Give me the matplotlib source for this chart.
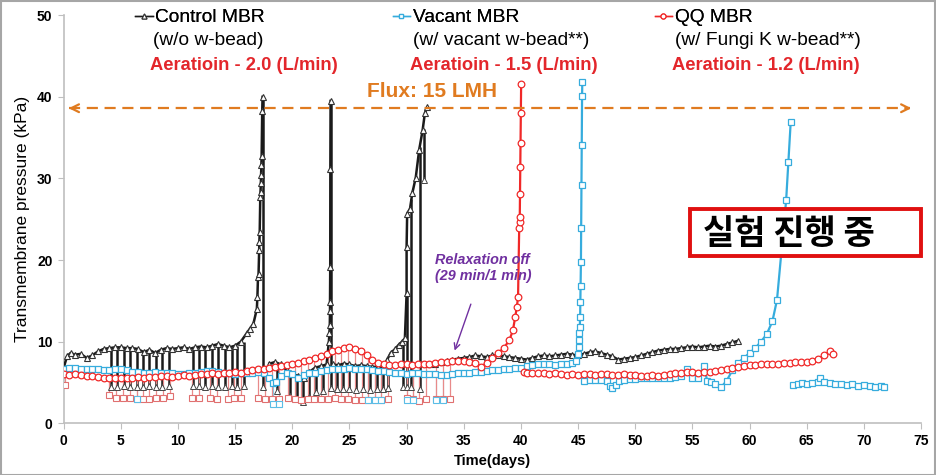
import numpy as np
import matplotlib.pyplot as plt
from matplotlib.patches import Rectangle

plt.rcParams['font.family'] = ['Liberation Sans', 'Noto Sans CJK KR', 'DejaVu Sans']

nan = float('nan')

####################################################################################
### Data
####################################################################################

# Control MBR (black triangles)
ctrl_day = [0, 0.3, 0.6, 1, 1.5, 2, 2.5, 3, 3.5, 4, 4.5, 5, 5.5, 6, 6.5, 7, 7.5, 8, 8.5, 9,
            9.5, 10, 10.5, 11, 11.5, 12, 12.5, 13, 13.5, 14, 14.5, 15, 15.5, 16, 16.3, 16.6,
            16.9, 16.95, 17.0, 17.05, 17.1, 17.12, 17.15, 17.2, 17.22, 17.25, 17.27, 17.3,
            17.32, 17.37, 17.4, nan,
            18.0, 18.5, 19.0, 19.5, 20.0, 20.5, 21.0, 21.5, 22.0, 22.5, 23.0,
            23.2, 23.25, 23.28, 23.3, 23.3, 23.32, 23.33, 23.35, nan,
            23.6, 24.0, 24.5, 25.0, 25.5, 26.0, 26.5, 27.0, 27.5, 28.0, 28.3, 28.6, 29.0,
            29.3, 29.6, 29.85, 30.0, 30.0, 30.05, 30.3, 30.5, 30.8, 31.1, 31.4, 31.6, 31.8, nan,
            32.0, 32.5, 33.0, 33.5, 34.0, 34.5, 35.0, 35.5, 36.0, 36.5, 37.0, 37.5, 38.0,
            38.5, 39.0, 39.5, 40.0, 40.5, 41.0, 41.5, 42.0, 42.5, 43.0, 43.5, 44.0, 44.5,
            45.0, 45.5, 46.0, 46.5, 47.0, 47.5, 48.0, 48.5, 49.0, 49.5, 50.0, 50.5, 51.0,
            51.5, 52.0, 52.5, 53.0, 53.5, 54.0, 54.5, 55.0, 55.5, 56.0, 56.5, 57.0, 57.5,
            58.0, 58.5, 59.0]
ctrl_tmp = [6.8, 8.2, 8.6, 8.4, 8.5, 8.0, 8.3, 8.8, 9.1, 9.2, 9.3, 9.3, 9.2, 9.2, 9.1, 8.7, 9.0, 8.6, 9.0, 9.2,
            9.1, 9.2, 9.3, 9.1, 9.3, 9.4, 9.3, 9.5, 9.7, 9.5, 9.3, 9.5, 10.0, 11.0, 11.6, 12.2,
            14.0, 15.5, 17.9, 18.3, 21.2, 22.2, 23.4, 27.7, 28.3, 29.4, 30.4, 31.6,
            32.8, 38.2, 40.0, nan,
            7.3, 7.5, 7.2, 6.5, 6.0, 5.8, 5.6, 6.3, 6.8, 7.0, 7.2,
            10.0, 11.0, 12.0, 13.8, 14.8, 19.1, 31.1, 39.5, nan,
            7.2, 7.1, 7.3, 7.2, 7.0, 7.1, 7.0, 6.9, 6.9, 6.9, 7.8, 8.6, 9.1,
            9.6, 10.0, 10.4, 15.9, 21.6, 25.7, 26.3, 28.2, 30.1, 33.5, 35.9, 38.0, 38.7, nan,
            7.2, 7.3, 7.5, 7.6, 7.8, 7.9, 8.0, 8.1, 8.3, 8.2, 8.1, 8.3, 8.3,
            8.2, 8.1, 8.0, 7.9, 7.8, 8.0, 8.2, 8.3, 8.2, 8.3, 8.4, 8.5, 8.4,
            8.3, 8.5, 8.7, 8.8, 8.6, 8.4, 8.2, 7.8, 7.9, 8.0, 8.1, 8.3, 8.5,
            8.7, 8.9, 9.0, 9.1, 9.1, 9.2, 9.3, 9.4, 9.3, 9.4, 9.5, 9.4, 9.5,
            9.7, 9.9, 10.1]

# relaxation drops of the control MBR
ctrl_relax_day = [4.1, 4.7, 5.25, 5.8, 6.4, 6.9, 7.5, 8.1, 8.6, 9.2, 11.3, 11.8, 12.4, 12.95,
                  13.5, 14.1, 14.7, 15.2, 15.8, 17.4, 18.7, 19.8, 20.4, 20.9, 21.5, 22.1, 22.7,
                  23.35, 23.9, 24.4, 25.0, 25.6, 26.2, 26.8, 27.4, 27.9, 28.4, 29.7, 30.0, 30.4,
                  31.2, 31.5]
ctrl_relax_top = [9.2, 9.3, 9.3, 9.2, 9.2, 9.0, 9.0, 8.7, 9.0, 9.2, 9.2, 9.3, 9.4, 9.4,
                  9.7, 9.5, 9.3, 9.5, 10.0, 40.0, 7.4, 6.5, 6.0, 5.8, 5.8, 6.5, 7.0,
                  39.5, 7.1, 7.3, 7.2, 7.1, 7.1, 7.0, 6.9, 6.9, 7.5, 9.8, 15.9, 27.5,
                  33.8, 36.0]
ctrl_relax_low = [4.5, 4.5, 4.6, 4.5, 4.4, 4.5, 4.6, 4.5, 4.5, 4.6, 4.6, 4.6, 4.5, 4.6,
                  4.5, 4.5, 4.6, 4.5, 4.6, 4.5, 4.0, 3.3, 3.0, 2.6, 3.2, 3.8, 4.0,
                  4.3, 4.2, 4.2, 4.2, 4.1, 4.2, 4.1, 4.2, 4.2, 4.3, 4.4, 4.4, 4.4,
                  4.2, 29.8]

# Vacant MBR (blue squares)
vac_day = [0, 0.5, 1, 1.5, 2, 2.5, 3, 3.5, 4, 4.5, 5, 5.5, 6, 6.5, 7, 7.5, 8, 8.5, 9, 9.5,
           10, 10.5, 11, 11.5, 12, 12.5, 13, 13.5, 14, 14.5, 15, 15.5, 16, 16.5, 17, 17.5,
           18, 18.3, 18.6, 19, 19.5, 20, 20.5, 21, 21.5, 22, 22.5, 23, 23.5, 24, 24.5, 25,
           25.5, 26, 26.5, 27, 27.5, 28, 28.5, 29, 29.5, 30, 30.5, 31, 31.5, 32, 32.5, 33,
           33.5, 34, 34.5, 35, 35.5, 36, 36.5, 37, 37.5, 38, 38.5, 39, 39.5, 40, 40.5, 41,
           41.5, 42, 42.5, 43, 43.5, 44, 44.5, 44.8, 45.0, 45.05, 45.1, 45.12, 45.15, 45.18,
           45.2, 45.22, 45.25, 45.27, 45.3, 45.32, 45.35, 45.37, nan,
           45.5, 46, 46.5, 47, 47.5, 47.8, 48, 48.3, 48.6, 49, 49.5, 50, 50.5, 51, 51.5, 52,
           52.5, 53, 53.5, 54, 54.5, 55, 55.5, 56, 56.3, 56.6, 57, 57.5, 58, 58.5, 59, 59.5,
           60, 60.5, 61, 61.5, 62, 62.4, 62.8, 63.2, 63.4, 63.6, nan,
           63.8, 64.2, 64.6, 65, 65.5, 66, 66.2, 66.5, 67, 67.5, 68, 68.5, 69, 69.5, 70,
           70.5, 71, 71.5, 71.8]
vac_tmp = [6.7, 6.8, 6.8, 6.7, 6.6, 6.6, 6.6, 6.5, 6.5, 6.6, 6.7, 6.5, 6.3, 6.3, 6.2, 6.2, 6.3, 6.2, 6.2, 6.1,
           6.0, 6.0, 6.1, 6.2, 6.3, 6.4, 6.4, 6.3, 6.2, 6.1, 6.0, 6.1, 6.2, 6.2, 6.3, 6.2,
           5.6, 4.9, 5.1, 5.8, 6.2, 6.0, 5.5, 5.9, 6.1, 6.2, 6.4, 6.5, 6.6, 6.6, 6.7, 6.8,
           6.7, 6.7, 6.6, 6.5, 6.4, 6.4, 6.3, 6.2, 6.1, 6.0, 6.1, 6.1, 6.0, 6.0, 6.0, 5.9,
           5.9, 6.0, 6.1, 6.2, 6.2, 6.3, 6.3, 6.4, 6.5, 6.5, 6.6, 6.7, 6.8, 6.8, 7.0, 7.1,
           7.2, 7.2, 7.3, 7.1, 7.2, 7.3, 7.4, 7.6, 8.5, 9.3, 10.2, 11.0, 11.8, 13.0,
           14.9, 16.8, 19.8, 23.9, 29.2, 34.1, 40.1, 41.8, nan,
           5.2, 5.3, 5.3, 5.3, 5.2, 4.6, 4.3, 4.7, 5.2, 5.3, 5.4, 5.4, 5.5, 5.5, 5.5, 5.5,
           5.6, 5.6, 5.7, 5.8, 6.6, 5.6, 5.5, 7.0, 5.2, 5.0, 4.8, 4.4, 5.2, 6.5, 7.4, 8.0,
           8.6, 9.2, 10.0, 10.9, 12.5, 15.1, 21.2, 27.3, 32.0, 36.9, nan,
           4.7, 4.8, 4.9, 4.8, 4.9, 5.0, 5.6, 5.1, 4.9, 4.8, 4.8, 4.7, 4.8, 4.6, 4.7,
           4.6, 4.5, 4.6, 4.5]

vac_relax_day = [6.4, 18.3, 18.8, 26.6, 27.2, 27.8, 30.0, 30.6, 32.6, 33.2]
vac_relax_top = [6.3, 5.0, 5.2, 6.7, 6.5, 6.4, 6.0, 6.1, 6.0, 5.9]
vac_relax_low = [3.0, 2.3, 2.4, 2.9, 2.9, 2.9, 2.8, 2.8, 2.9, 2.9]

# QQ MBR (red circles)
qq_day = [0, 0.5, 1, 1.5, 2, 2.5, 3, 3.5, 4, 4.5, 5, 5.5, 6, 6.5, 7, 7.5, 8, 8.5, 9, 9.5,
          10, 10.5, 11, 11.5, 12, 12.5, 13, 13.5, 14, 14.5, 15, 15.5, 16, 16.5, 17, 17.5,
          18, 18.5, 19, 19.5, 20, 20.5, 21, 21.5, 22, 22.5, 23, 23.5, 24, 24.5, 25, 25.5,
          26, 26.5, 27, 27.5, 28, 28.5, 29, 29.5, 30, 30.5, 31, 31.5, 32, 32.5, 33, 33.5,
          34, 34.5, 35, 35.5, 36, 36.5, 37, 37.5, 38, 38.5, 39, 39.3, 39.5, 39.65, 39.75,
          39.85, 39.88, 39.9, 39.92, 39.95, 39.97, 40.0, 40.02, nan,
          40.3, 40.5, 41, 41.5, 42, 42.5, 43, 43.5, 44, 44.5, 45, 45.5, 46, 46.5, 47, 47.5,
          48, 48.5, 49, 49.5, 50, 50.5, 51, 51.5, 52, 52.5, 53, 53.5, 54, 54.5, 55, 55.5,
          56, 56.5, 57, 57.5, 58, 58.5, 59, 59.5, 60, 60.5, 61, 61.5, 62, 62.5, 63, 63.5,
          64, 64.5, 65, 65.5, 66, 66.5, 67, 67.3]
qq_tmp = [6.0, 5.9, 6.0, 5.9, 5.8, 5.8, 5.7, 5.6, 5.6, 5.5, 5.6, 5.5, 5.6, 5.7, 5.6, 5.7, 5.7, 5.8, 5.8, 5.7,
          5.8, 5.9, 5.8, 5.9, 6.0, 6.0, 6.1, 6.0, 6.1, 6.2, 6.3, 6.2, 6.4, 6.5, 6.6, 6.7,
          6.8, 6.9, 7.0, 7.1, 7.3, 7.4, 7.6, 7.8, 8.0, 8.2, 8.5, 8.8, 9.0, 9.2, 9.3, 9.1,
          8.8, 8.3, 7.8, 7.4, 7.2, 7.1, 7.1, 7.2, 7.2, 7.1, 7.2, 7.2, 7.3, 7.4, 7.5, 7.5,
          7.6, 7.6, 7.6, 7.5, 7.4, 6.9, 7.4, 8.0, 8.6, 9.2, 10.2, 11.4, 13.0, 14.3, 15.5,
          23.9, 24.7, 25.3, 28.1, 31.4, 34.3, 38.0, 41.6, nan,
          6.3, 6.1, 6.1, 6.2, 6.1, 6.0, 6.1, 6.0, 5.9, 6.0, 5.9, 6.0, 6.0, 5.9, 6.0, 6.0,
          5.9, 5.9, 6.0, 5.9, 5.9, 5.8, 5.8, 5.9, 5.8, 5.9, 6.0, 6.1, 6.2, 6.3, 6.3, 6.2,
          6.3, 6.3, 6.4, 6.5, 6.6, 6.8, 6.9, 7.0, 7.1, 7.1, 7.2, 7.2, 7.3, 7.3, 7.4, 7.4,
          7.5, 7.5, 7.5, 7.6, 7.9, 8.3, 8.8, 8.5]

qq_relax_day = [0.1, 4.0, 4.6, 5.2, 5.8, 6.4, 6.9, 7.5, 8.1, 8.7, 9.3, 11.2, 11.8, 12.8, 13.4,
                14.4, 14.9, 15.5, 17.0, 17.6, 18.2, 18.8, 19.6, 20.2, 20.8, 21.4, 21.9,
                22.5, 23.1, 23.7, 24.3, 24.9, 25.5, 26.1, 26.6, 27.2, 27.8, 28.4, 30.0,
                30.6, 31.1, 31.7, 32.6, 33.2, 33.8]
qq_relax_top = [6.0, 5.6, 5.5, 5.6, 5.5, 5.7, 5.6, 5.7, 5.7, 5.8, 5.7, 5.8, 5.9, 6.0, 6.0,
                6.2, 6.3, 6.2, 6.6, 6.7, 6.8, 6.9, 7.1, 7.3, 7.5, 7.8, 8.0,
                8.2, 8.5, 8.9, 9.1, 9.3, 9.1, 8.7, 8.2, 7.6, 7.3, 7.1, 7.2,
                7.1, 7.2, 7.2, 7.4, 7.5, 7.6]
qq_relax_low = [4.7, 3.4, 3.1, 3.1, 3.1, 3.0, 3.0, 3.0, 3.1, 3.1, 3.3, 3.1, 3.1, 3.1, 3.0,
                3.0, 3.1, 3.1, 3.1, 3.0, 3.0, 3.0, 3.1, 3.0, 2.9, 3.0, 3.0,
                3.0, 3.0, 3.1, 3.0, 3.0, 2.9, 2.8, 2.8, 2.9, 2.9, 3.0, 3.1,
                3.0, 2.7, 3.0, 3.0, 3.0, 3.0]

c_ctrl = '#1A1A1A'
c_vac = '#36ACDD'
c_qq = '#F02828'

####################################################################################
### Figure
####################################################################################

fig = plt.figure(figsize=(9.36, 4.75), dpi=100)
fig.patch.set_facecolor('white')
ax = fig.add_axes([0.068, 0.109, 0.916, 0.859])

# relaxation drops
ax.vlines(ctrl_relax_day, ctrl_relax_low, ctrl_relax_top, colors=c_ctrl, lw=1.8, zorder=2)
ax.plot(ctrl_relax_day, ctrl_relax_low, ls='none', marker='^', ms=4, mfc='white',
        mec='#444444', mew=0.7, zorder=3)
ax.vlines(vac_relax_day, vac_relax_low, vac_relax_top, colors='#7FCBEB', lw=0.8, zorder=2)
ax.vlines(qq_relax_day, qq_relax_low, qq_relax_top, colors='#E88A8A', lw=0.9, zorder=2.5)
ax.plot(qq_relax_day, qq_relax_low, ls='none', marker='s', ms=4, mfc='white',
        mec='#E07070', mew=0.8, zorder=3)
ax.plot(vac_relax_day, vac_relax_low, ls='none', marker='s', ms=4, mfc='white',
        mec='#5BBDE6', mew=0.8, zorder=3)

# main series
l_ctrl, = ax.plot(ctrl_day, ctrl_tmp, color=c_ctrl, lw=1.8, marker='^', ms=4.8,
                  mfc='white', mec='#333333', mew=0.8, zorder=4)
l_vac, = ax.plot(vac_day, vac_tmp, color=c_vac, lw=1.6, marker='s', ms=4.4,
                 mfc='white', mec=c_vac, mew=0.9, zorder=5)
l_qq, = ax.plot(qq_day, qq_tmp, color=c_qq, lw=1.6, marker='o', ms=4.8,
                mfc='white', mec=c_qq, mew=0.9, zorder=6)

# axes
ax.set_xlim(0, 75)
ax.set_ylim(0, 50)
ax.set_xticks(np.arange(0, 76, 5))
ax.set_yticks(np.arange(0, 51, 10))
for s in ['top', 'right']:
    ax.spines[s].set_visible(False)
for s in ['left', 'bottom']:
    ax.spines[s].set_color('#BFBFBF')
    ax.spines[s].set_linewidth(1.2)
ax.tick_params(axis='both', which='major', direction='out', length=4, color='#BFBFBF',
               labelsize=10, pad=4)
for lab in ax.get_xticklabels() + ax.get_yticklabels():
    lab.set_fontweight('bold')
ax.set_xlabel('Time(days)', fontsize=10.5, fontweight='bold', labelpad=4)
ax.set_ylabel('Transmembrane pressure (kPa)', fontsize=12.5, labelpad=5)

# flux arrow
flux = 38.6
ax.hlines(flux, 0.5, 74.0, colors='#E07B20', linestyles=(0, (5, 3)), lw=1.6, zorder=7)
ax.annotate('', xy=(0.2, flux), xytext=(1.2, flux),
            arrowprops=dict(arrowstyle='->', color='#E07B20', lw=1.6, mutation_scale=14))
ax.annotate('', xy=(74.4, flux), xytext=(73.4, flux),
            arrowprops=dict(arrowstyle='->', color='#E07B20', lw=1.6, mutation_scale=14))
ax.text(32.2, 40.6, 'Flux: 15 LMH', color='#E07B20', fontsize=15, fontweight='bold',
        ha='center', va='center', zorder=8)

# legend-style headers
header = [(l_ctrl, 'Control MBR', '(w/o w-bead)', 'Aeratioin - 2.0 (L/min)', 0.146, 0.009),
          (l_vac, 'Vacant MBR', '(w/ vacant w-bead**)', 'Aeratioin - 1.5 (L/min)', 0.424, 0.006),
          (l_qq, 'QQ MBR', '(w/ Fungi K w-bead**)', 'Aeratioin - 1.2 (L/min)', 0.704, 0.006)]
for line, name, sub, aer, xf, dx in header:
    leg = fig.legend([line], [name], loc='center left',
                     bbox_to_anchor=(xf - 0.0105 + dx, 0.963),
                     frameon=False, handlelength=0.9, handletextpad=0.15, borderpad=0,
                     borderaxespad=0, prop=dict(size=13.8), markerscale=0.75)
    leg.get_lines()[0].set_linewidth(1.0)
    fig.add_artist(leg)
    fig.text(xf + 0.017, 0.914, sub, fontsize=13.8, ha='left', va='center')
    fig.text(xf + 0.014, 0.862, aer, fontsize=13.2, fontweight='bold', color='#E3262B',
             ha='left', va='center')

# relaxation annotation
ax.annotate('Relaxation off\n(29 min/1 min)', xy=(34.2, 8.9), xytext=(32.5, 19.0),
            fontsize=10.4, fontstyle='italic', fontweight='bold', color='#7030A0',
            ha='left', va='center', linespacing=1.15, zorder=8,
            arrowprops=dict(arrowstyle='->', color='#7030A0', lw=1.0,
                            shrinkA=14, shrinkB=0))

# Korean status box
ax.add_patch(Rectangle((54.8, 20.5), 20.2, 5.8, fc='white', ec='#E01010', lw=2.8,
                       zorder=9, clip_on=False))
ax.text(55.9, 23.3, '실험 진행 중', fontsize=24.5, fontweight='bold', color='black',
        family=['Noto Sans CJK KR', 'DejaVu Sans'], ha='left', va='center', zorder=10)

fig.patches.append(Rectangle((0.001, 0.001), 0.998, 0.997, transform=fig.transFigure,
                             fill=False, ec='#A6A6A6', lw=1.5))

fig.savefig('out.png', dpi=100)
